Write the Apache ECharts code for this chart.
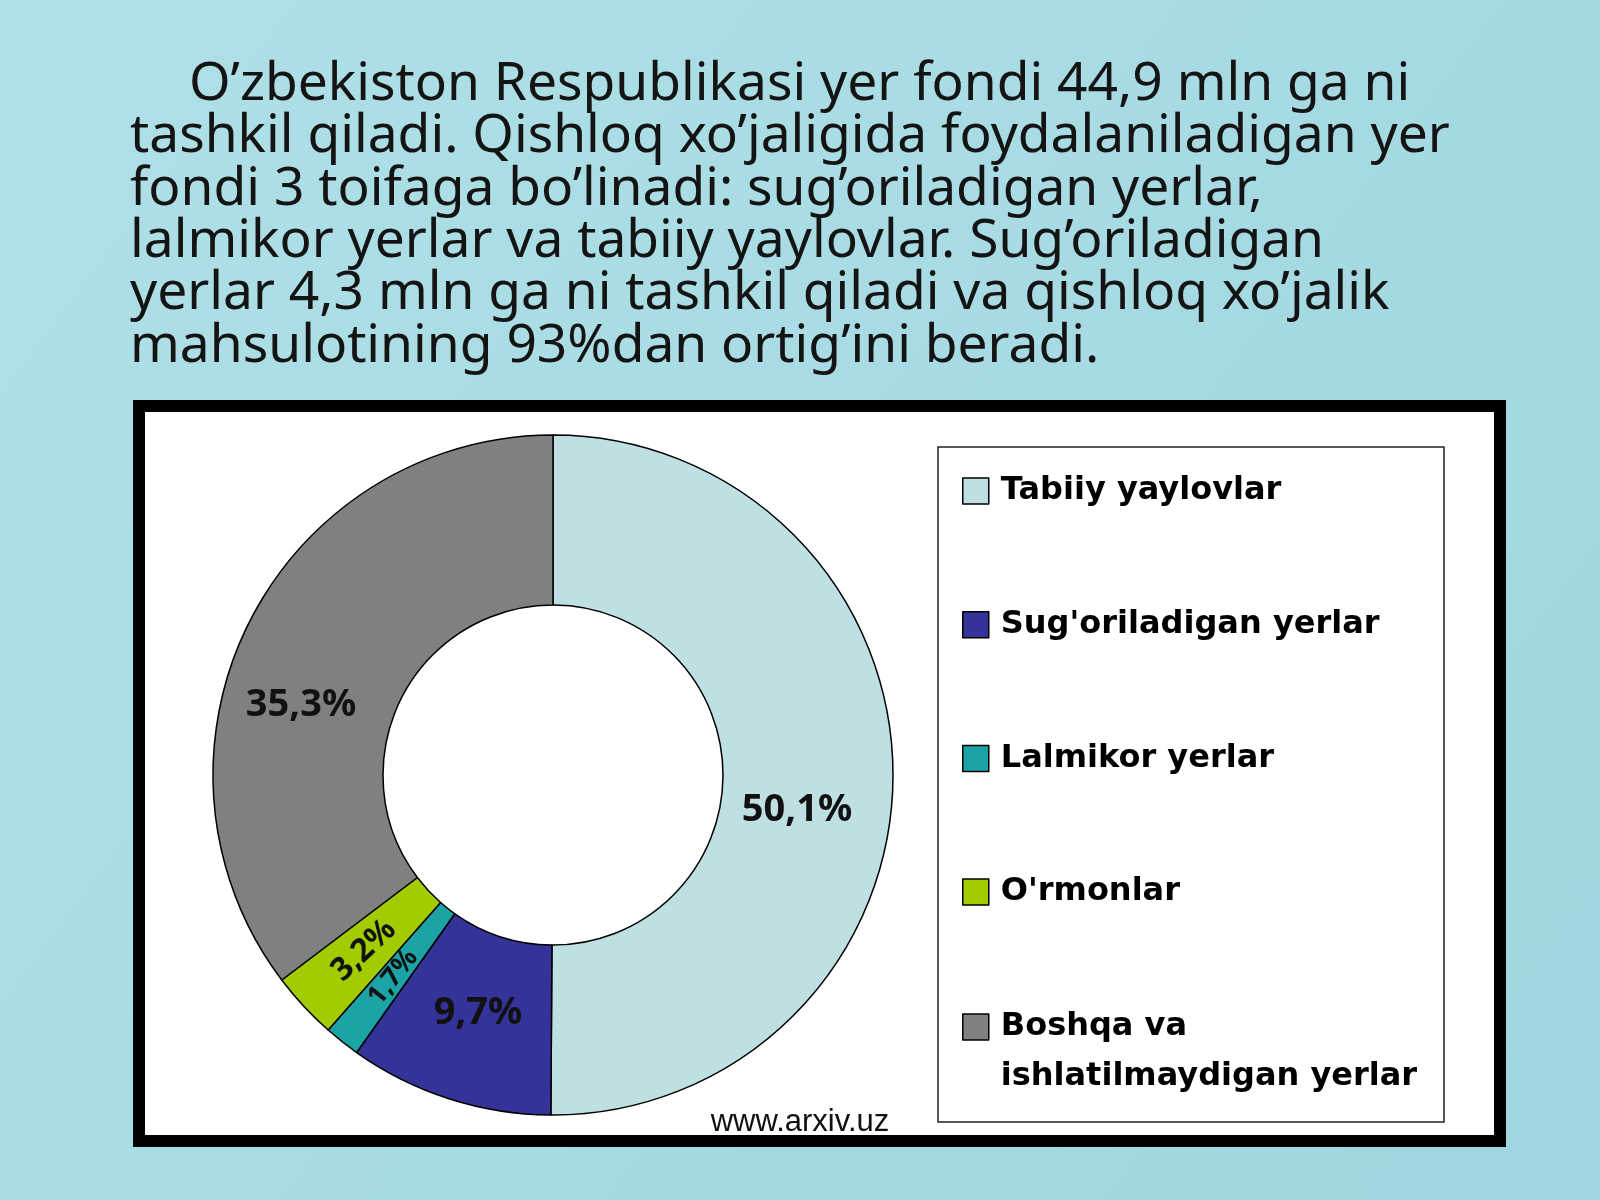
<!DOCTYPE html>
<html>
<head>
<meta charset="utf-8">
<script src="https://cdn.jsdelivr.net/npm/echarts@6/dist/echarts.min.js"></script>
<style>
  html, body { margin: 0; padding: 0; width: 1600px; height: 1200px; overflow: hidden; background: #a9dde4; }
  #chart { width: 1600px; height: 1200px; }
</style>
</head>
<body>
<div id="chart"></div>
<script>
// ---- data ----
const headingLines = [
  'O’zbekiston Respublikasi yer fondi 44,9 mln ga ni',
  'tashkil qiladi. Qishloq xo’jaligida foydalaniladigan yer',
  'fondi 3 toifaga bo’linadi: sug’oriladigan yerlar,',
  'lalmikor yerlar va tabiiy yaylovlar. Sug’oriladigan',
  'yerlar 4,3 mln ga ni tashkil qiladi va qishloq xo’jalik',
  'mahsulotining 93%dan ortig’ini beradi.'
];
const categories = [
  'Tabiiy yaylovlar',
  'Sug\'oriladigan yerlar',
  'Lalmikor yerlar',
  'O\'rmonlar',
  'Boshqa va ishlatilmaydigan yerlar'
];
const values = [50.1, 9.7, 1.7, 3.2, 35.3];
const sourceText = 'www.arxiv.uz';

// ---- styles (kept apart from data) ----
const colors = ['#bfe0e3', '#333399', '#1ba3a6', '#a2cc00', '#808080'];
const fmtPct = v => v.toFixed(1).replace('.', ',') + '%';
// label placement tweaks: lead = blank line above (shifts down), trail = blank line below (shifts up)
const labelStyles = [
  { fontSize: 38, padding: [0, 28, 0, 0], lineHeight: 68, formatter: p => '\n' + fmtPct(p.value) },
  { fontSize: 38, padding: [0, 0, 0, 8], lineHeight: 14, formatter: p => fmtPct(p.value) + '\n' },
  { fontSize: 27, rotate: 'radial' },
  { fontSize: 32, rotate: 'radial' },
  { fontSize: 38, padding: [0, 42, 0, 0], lineHeight: 90, formatter: p => '\n' + fmtPct(p.value) }
];

const chart = echarts.init(document.getElementById('chart'), null, { renderer: 'canvas' });

const legendText = {
  fontFamily: 'DejaVu Sans',
  fontWeight: 'bold',
  fontSize: 32,
  lineHeight: 50,
  color: '#000'
};

const headingStyle = { fontFamily: 'Noto Sans', fontWeight: 'normal', fontSize: 53.3, lineHeight: 52.3, color: '#141414' };

const option = {
  backgroundColor: {
    type: 'linear', x: 0, y: 0, x2: 1, y2: 1,
    colorStops: [{ offset: 0, color: '#b0e0e7' }, { offset: 1, color: '#9fd6df' }]
  },
  animation: false,
  title: [
    { text: headingLines[0], left: 189, top: 59, padding: 0, textStyle: headingStyle },
    { text: headingLines.slice(1).join('\n'), left: 130, top: 111, padding: 0, textStyle: headingStyle }
  ],
  graphic: [
    {
      type: 'rect', z: 0,
      shape: { x: 139, y: 406, width: 1361, height: 735 },
      style: { fill: '#ffffff', stroke: '#000000', lineWidth: 12 }
    },
    {
      type: 'rect', z: 1,
      shape: { x: 938, y: 447, width: 506, height: 675 },
      style: { fill: '#ffffff', stroke: '#222222', lineWidth: 1.5 }
    },
    {
      type: 'text', z: 1,
      x: 800, y: 1122,
      style: {
        text: sourceText, align: 'center', verticalAlign: 'middle',
        fontFamily: 'Liberation Sans', fontSize: 31, fill: '#111'
      }
    }
  ],
  legend: [
    {
      orient: 'vertical',
      left: 962, top: 466, padding: 0,
      itemWidth: 26, itemHeight: 26, itemGap: 83.7,
      icon: 'rect',
      selectedMode: false,
      itemStyle: { borderColor: '#000', borderWidth: 1.5 },
      data: categories.slice(0, 4),
      textStyle: Object.assign({}, legendText, { padding: [0, 0, 0, 7] })
    },
    {
      orient: 'vertical',
      left: 962, top: 952, padding: 0,
      itemWidth: 26, itemHeight: 26,
      icon: 'rect',
      selectedMode: false,
      itemStyle: { borderColor: '#000', borderWidth: 1.5 },
      data: categories.slice(4),
      formatter: name => '\n' + name.replace('Boshqa va ', 'Boshqa va\n'),
      textStyle: Object.assign({}, legendText, { padding: [0, 0, 0, 7] })
    }
  ],
  series: [{
    type: 'pie',
    center: [553, 775],
    radius: [170, 340],
    startAngle: 90,
    clockwise: true,
    avoidLabelOverlap: false,
    silent: true,
    itemStyle: { borderColor: '#000', borderWidth: 1.5 },
    label: {
      show: true,
      position: 'inside',
      fontFamily: 'Noto Sans',
      fontWeight: 'bold',
      color: '#111',
      formatter: p => fmtPct(p.value)
    },
    labelLine: { show: false },
    data: categories.map((name, i) => ({
      name: name,
      value: values[i],
      itemStyle: { color: colors[i] },
      label: labelStyles[i]
    }))
  }]
};

chart.setOption(option);
</script>
</body>
</html>
